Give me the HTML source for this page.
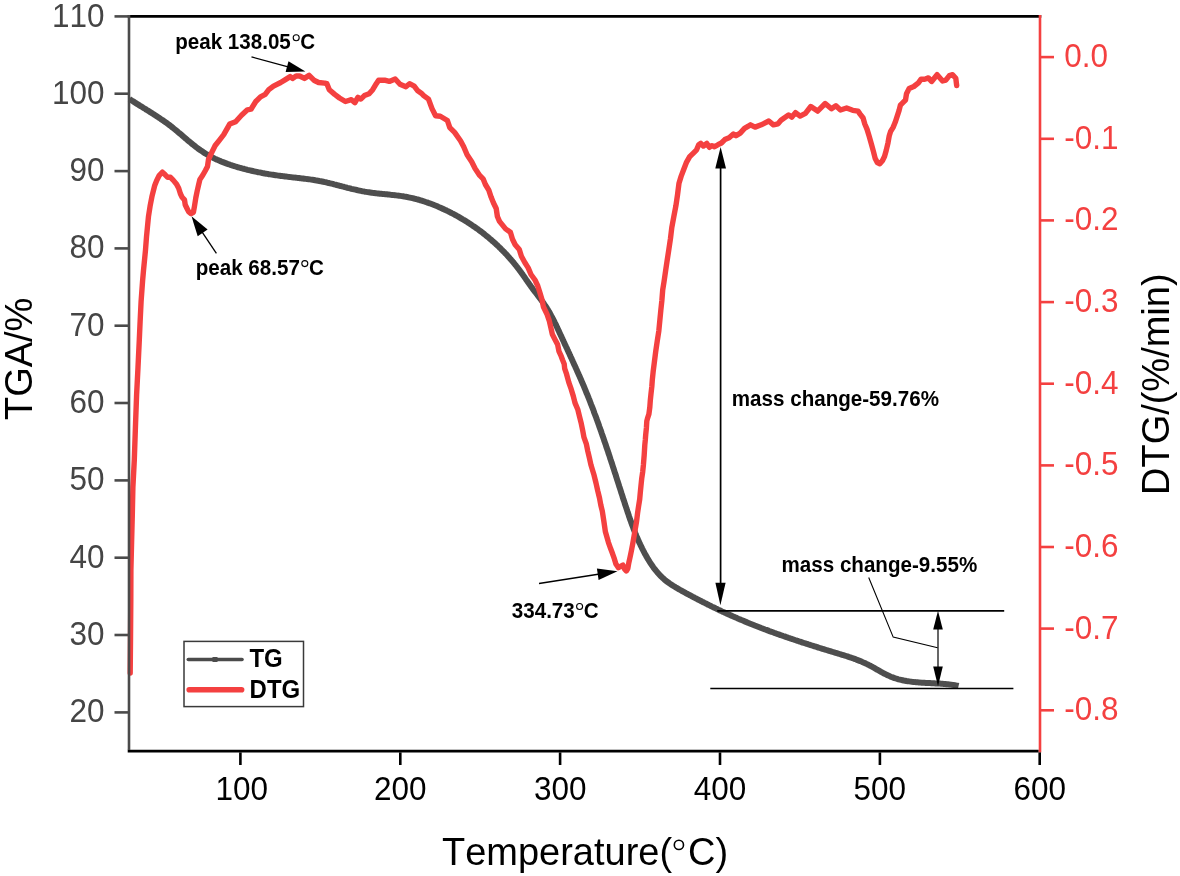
<!DOCTYPE html>
<html><head><meta charset="utf-8"><title>TGA/DTG</title>
<style>
html,body{margin:0;padding:0;background:#fff;}
body{width:1180px;height:876px;overflow:hidden;}
svg{display:block;will-change:transform;}
text{font-family:"Liberation Sans",sans-serif;font-kerning:none;}
.tl{font-size:31.5px;fill:#454545;}
.tb{font-size:31.5px;fill:#000;}
.tr{font-size:31.5px;fill:#f44040;}
.tt{font-size:38px;fill:#000;}
.lg{font-size:24px;font-weight:bold;fill:#000;}
.an{font-size:20.6px;font-weight:bold;fill:#000;}
</style></head>
<body>
<svg width="1180" height="876" viewBox="0 0 1180 876">
<rect width="1180" height="876" fill="#fff"/>
<polyline points="129.4,99.0 130.5,99.7 131.7,100.5 132.9,101.2 134.0,101.9 135.2,102.7 136.3,103.4 137.5,104.2 138.7,104.9 139.8,105.6 141.0,106.3 142.2,107.1 143.3,107.8 144.5,108.5 145.7,109.2 146.8,110.0 148.0,110.7 149.2,111.4 150.3,112.2 151.5,112.9 152.7,113.6 153.8,114.4 155.0,115.1 156.1,115.9 157.3,116.6 158.4,117.4 159.6,118.1 160.7,118.9 161.9,119.7 163.0,120.4 164.1,121.2 165.2,122.0 166.4,122.8 167.5,123.6 168.6,124.5 169.7,125.3 170.8,126.1 171.8,127.0 172.9,127.8 174.0,128.7 175.0,129.5 176.1,130.4 177.2,131.3 178.2,132.2 179.3,133.1 180.3,133.9 181.4,134.8 182.4,135.7 183.4,136.6 184.5,137.5 185.5,138.4 186.6,139.3 187.6,140.2 188.7,141.1 189.7,141.9 190.8,142.8 191.8,143.7 192.9,144.5 194.0,145.4 195.0,146.2 196.1,147.1 197.2,147.9 198.3,148.7 199.4,149.5 200.5,150.3 201.7,151.1 202.8,151.8 203.9,152.6 205.1,153.3 206.2,154.0 207.4,154.7 208.6,155.4 209.8,156.1 211.0,156.7 212.2,157.4 213.5,158.0 214.7,158.6 216.0,159.2 217.2,159.8 218.5,160.3 219.8,160.9 221.1,161.4 222.3,161.9 223.6,162.4 224.9,162.9 226.2,163.4 227.5,163.9 228.9,164.3 230.2,164.8 231.5,165.2 232.8,165.7 234.2,166.1 235.5,166.5 236.8,166.9 238.1,167.3 239.5,167.7 240.8,168.0 242.1,168.4 243.5,168.7 244.8,169.1 246.1,169.4 247.5,169.8 248.8,170.1 250.1,170.4 251.5,170.7 252.8,171.0 254.1,171.3 255.5,171.6 256.8,171.9 258.2,172.2 259.5,172.4 260.8,172.7 262.2,173.0 263.5,173.2 264.9,173.5 266.2,173.7 267.5,173.9 268.9,174.2 270.2,174.4 271.6,174.6 272.9,174.8 274.3,175.0 275.6,175.2 277.0,175.4 278.3,175.6 279.7,175.8 281.1,176.0 282.4,176.1 283.8,176.3 285.2,176.5 286.5,176.6 287.9,176.8 289.3,176.9 290.6,177.1 292.0,177.3 293.4,177.4 294.7,177.6 296.1,177.7 297.5,177.9 298.9,178.0 300.2,178.2 301.6,178.4 303.0,178.5 304.3,178.7 305.7,178.9 307.1,179.1 308.4,179.2 309.8,179.4 311.2,179.6 312.5,179.8 313.9,180.0 315.3,180.3 316.6,180.5 318.0,180.7 319.3,181.0 320.7,181.2 322.0,181.5 323.4,181.8 324.7,182.1 326.1,182.3 327.4,182.7 328.8,183.0 330.1,183.3 331.4,183.6 332.8,183.9 334.1,184.3 335.4,184.6 336.8,185.0 338.1,185.3 339.4,185.7 340.8,186.0 342.1,186.4 343.4,186.7 344.8,187.1 346.1,187.4 347.4,187.8 348.7,188.1 350.1,188.4 351.4,188.8 352.7,189.1 354.1,189.4 355.4,189.7 356.8,190.0 358.1,190.3 359.4,190.6 360.8,190.9 362.1,191.2 363.5,191.4 364.8,191.7 366.2,191.9 367.5,192.1 368.9,192.3 370.3,192.5 371.6,192.7 373.0,192.9 374.3,193.0 375.7,193.2 377.1,193.4 378.5,193.5 379.8,193.7 381.2,193.8 382.6,193.9 383.9,194.1 385.3,194.2 386.7,194.3 388.1,194.5 389.4,194.6 390.8,194.8 392.2,194.9 393.6,195.1 394.9,195.2 396.3,195.4 397.7,195.6 399.0,195.7 400.4,195.9 401.7,196.1 403.1,196.3 404.5,196.6 405.8,196.8 407.2,197.0 408.5,197.3 409.8,197.6 411.2,197.9 412.5,198.2 413.9,198.5 415.2,198.8 416.5,199.2 417.8,199.5 419.2,199.9 420.5,200.3 421.8,200.7 423.1,201.1 424.4,201.5 425.7,202.0 427.0,202.4 428.3,202.9 429.6,203.3 430.9,203.8 432.2,204.3 433.5,204.8 434.7,205.3 436.0,205.8 437.3,206.3 438.6,206.9 439.8,207.4 441.1,208.0 442.3,208.6 443.6,209.1 444.8,209.7 446.1,210.3 447.3,210.9 448.6,211.5 449.8,212.1 451.0,212.8 452.2,213.4 453.5,214.0 454.7,214.7 455.9,215.3 457.1,216.0 458.3,216.7 459.5,217.4 460.7,218.1 461.9,218.8 463.0,219.5 464.2,220.2 465.4,220.9 466.6,221.6 467.7,222.4 468.9,223.1 470.0,223.9 471.2,224.6 472.3,225.4 473.5,226.2 474.6,226.9 475.7,227.7 476.8,228.5 478.0,229.3 479.1,230.2 480.2,231.0 481.3,231.8 482.4,232.6 483.4,233.5 484.5,234.3 485.6,235.2 486.7,236.1 487.7,236.9 488.8,237.8 489.8,238.7 490.9,239.6 491.9,240.5 492.9,241.4 494.0,242.3 495.0,243.2 496.0,244.2 497.0,245.1 498.0,246.0 499.0,247.0 500.0,247.9 501.0,248.9 501.9,249.9 502.9,250.9 503.9,251.8 504.8,252.8 505.8,253.8 506.7,254.8 507.6,255.8 508.5,256.9 509.5,257.9 510.4,258.9 511.3,260.0 512.2,261.0 513.0,262.1 513.9,263.1 514.8,264.2 515.7,265.2 516.5,266.3 517.4,267.4 518.2,268.5 519.0,269.6 519.8,270.7 520.7,271.8 521.5,272.9 522.3,274.0 523.1,275.2 523.9,276.3 524.7,277.4 525.4,278.5 526.2,279.7 527.0,280.8 527.8,281.9 528.6,283.1 529.4,284.2 530.2,285.3 531.0,286.4 531.8,287.5 532.6,288.7 533.4,289.8 534.3,290.9 535.1,292.0 535.9,293.0 536.8,294.1 537.6,295.2 538.4,296.3 539.3,297.4 540.1,298.5 540.9,299.6 541.7,300.7 542.6,301.8 543.4,302.9 544.1,304.0 544.9,305.2 545.7,306.3 546.4,307.4 547.1,308.6 547.9,309.7 548.6,310.9 549.3,312.1 549.9,313.3 550.6,314.5 551.2,315.7 551.9,316.9 552.5,318.1 553.1,319.3 553.8,320.5 554.4,321.7 555.0,323.0 555.6,324.2 556.2,325.4 556.8,326.7 557.3,327.9 557.9,329.1 558.5,330.4 559.1,331.6 559.6,332.9 560.2,334.1 560.8,335.4 561.4,336.6 562.0,337.9 562.5,339.1 563.1,340.3 563.7,341.6 564.3,342.8 564.8,344.1 565.4,345.3 566.0,346.6 566.6,347.8 567.2,349.1 567.7,350.3 568.3,351.6 568.9,352.8 569.5,354.1 570.0,355.3 570.6,356.6 571.2,357.8 571.8,359.1 572.3,360.3 572.9,361.6 573.5,362.8 574.0,364.1 574.6,365.3 575.2,366.6 575.7,367.8 576.3,369.1 576.9,370.3 577.4,371.6 578.0,372.8 578.5,374.1 579.1,375.4 579.7,376.6 580.2,377.9 580.8,379.1 581.3,380.4 581.8,381.7 582.4,382.9 582.9,384.2 583.5,385.4 584.0,386.7 584.5,388.0 585.1,389.3 585.6,390.5 586.1,391.8 586.6,393.1 587.2,394.3 587.7,395.6 588.2,396.9 588.7,398.2 589.2,399.4 589.7,400.7 590.2,402.0 590.7,403.3 591.2,404.6 591.7,405.8 592.2,407.1 592.7,408.4 593.2,409.7 593.7,411.0 594.1,412.3 594.6,413.6 595.1,414.8 595.6,416.1 596.1,417.4 596.5,418.7 597.0,420.0 597.5,421.3 598.0,422.6 598.4,423.9 598.9,425.2 599.3,426.5 599.8,427.8 600.3,429.1 600.7,430.4 601.2,431.7 601.6,433.0 602.1,434.3 602.5,435.6 603.0,436.9 603.4,438.2 603.9,439.5 604.3,440.8 604.8,442.1 605.2,443.4 605.7,444.7 606.1,446.0 606.5,447.3 607.0,448.6 607.4,449.9 607.9,451.2 608.3,452.5 608.7,453.8 609.2,455.1 609.6,456.4 610.0,457.7 610.4,459.0 610.9,460.3 611.3,461.6 611.7,462.9 612.2,464.2 612.6,465.6 613.0,466.9 613.4,468.2 613.9,469.5 614.3,470.8 614.7,472.1 615.1,473.4 615.6,474.7 616.0,476.0 616.4,477.3 616.8,478.6 617.2,480.0 617.7,481.3 618.1,482.6 618.5,483.9 618.9,485.2 619.3,486.5 619.8,487.8 620.2,489.1 620.6,490.4 621.0,491.7 621.4,493.0 621.9,494.4 622.3,495.7 622.7,497.0 623.1,498.3 623.5,499.6 624.0,500.9 624.4,502.2 624.8,503.5 625.2,504.8 625.7,506.1 626.1,507.4 626.5,508.7 627.0,510.0 627.4,511.3 627.8,512.6 628.3,513.9 628.7,515.2 629.1,516.5 629.6,517.8 630.0,519.1 630.5,520.4 631.0,521.7 631.4,523.0 631.9,524.3 632.4,525.6 632.9,526.9 633.3,528.1 633.8,529.4 634.3,530.7 634.8,532.0 635.3,533.2 635.9,534.5 636.4,535.8 636.9,537.0 637.5,538.3 638.0,539.6 638.6,540.8 639.1,542.1 639.7,543.3 640.3,544.6 640.9,545.8 641.5,547.0 642.1,548.3 642.7,549.5 643.3,550.7 644.0,552.0 644.6,553.2 645.3,554.4 646.0,555.6 646.6,556.8 647.3,558.0 648.0,559.2 648.8,560.4 649.5,561.6 650.3,562.8 651.0,563.9 651.8,565.1 652.6,566.2 653.4,567.4 654.2,568.5 655.0,569.6 655.9,570.6 656.8,571.7 657.7,572.8 658.6,573.8 659.5,574.8 660.4,575.8 661.4,576.7 662.4,577.7 663.4,578.6 664.4,579.5 665.4,580.4 666.5,581.2 667.6,582.0 668.7,582.8 669.8,583.6 670.9,584.4 672.1,585.1 673.2,585.8 674.4,586.5 675.6,587.3 676.7,587.9 677.9,588.6 679.1,589.3 680.3,590.0 681.5,590.7 682.7,591.3 683.9,592.0 685.1,592.6 686.3,593.3 687.6,594.0 688.8,594.6 690.0,595.3 691.2,595.9 692.4,596.6 693.6,597.2 694.8,597.9 696.1,598.5 697.3,599.1 698.5,599.8 699.7,600.4 700.9,601.0 702.2,601.7 703.4,602.3 704.6,602.9 705.9,603.5 707.1,604.1 708.3,604.8 709.6,605.4 710.8,606.0 712.0,606.6 713.3,607.2 714.5,607.8 715.7,608.4 717.0,609.0 718.2,609.6 719.5,610.2 720.7,610.8 722.0,611.4 723.2,611.9 724.5,612.5 725.7,613.1 727.0,613.7 728.2,614.2 729.5,614.8 730.7,615.4 732.0,615.9 733.3,616.5 734.5,617.0 735.8,617.6 737.0,618.1 738.3,618.7 739.6,619.2 740.8,619.8 742.1,620.3 743.4,620.8 744.6,621.4 745.9,621.9 747.2,622.4 748.4,622.9 749.7,623.5 751.0,624.0 752.3,624.5 753.6,625.0 754.8,625.5 756.1,626.0 757.4,626.5 758.7,627.0 760.0,627.5 761.2,628.0 762.5,628.5 763.8,629.0 765.1,629.5 766.4,629.9 767.7,630.4 769.0,630.9 770.2,631.4 771.5,631.8 772.8,632.3 774.1,632.8 775.4,633.2 776.7,633.7 778.0,634.2 779.3,634.6 780.6,635.1 781.9,635.5 783.2,636.0 784.5,636.4 785.8,636.9 787.1,637.3 788.4,637.8 789.7,638.2 791.0,638.7 792.3,639.1 793.6,639.5 794.9,640.0 796.2,640.4 797.5,640.8 798.8,641.3 800.1,641.7 801.4,642.1 802.7,642.6 804.0,643.0 805.4,643.4 806.7,643.8 808.0,644.2 809.3,644.7 810.6,645.1 811.9,645.5 813.2,645.9 814.5,646.3 815.8,646.7 817.2,647.1 818.5,647.6 819.8,648.0 821.1,648.4 822.4,648.8 823.7,649.2 825.0,649.6 826.3,650.0 827.7,650.4 829.0,650.8 830.3,651.2 831.6,651.6 832.9,652.0 834.2,652.4 835.6,652.8 836.9,653.2 838.2,653.6 839.5,654.0 840.8,654.4 842.1,654.8 843.5,655.2 844.8,655.6 846.1,656.0 847.4,656.4 848.7,656.9 850.0,657.3 851.3,657.7 852.6,658.2 853.9,658.6 855.2,659.1 856.4,659.6 857.7,660.1 859.0,660.6 860.3,661.1 861.5,661.6 862.8,662.2 864.0,662.7 865.3,663.3 866.5,663.9 867.8,664.5 869.0,665.1 870.2,665.7 871.4,666.4 872.6,667.0 873.8,667.7 875.0,668.4 876.2,669.1 877.4,669.8 878.6,670.4 879.8,671.1 881.0,671.8 882.2,672.5 883.4,673.1 884.6,673.8 885.9,674.4 887.1,675.0 888.3,675.6 889.5,676.1 890.8,676.7 892.1,677.2 893.3,677.6 894.6,678.1 895.9,678.5 897.2,678.9 898.5,679.3 899.8,679.6 901.1,679.9 902.5,680.2 903.8,680.5 905.1,680.7 906.5,681.0 907.8,681.2 909.2,681.4 910.6,681.6 911.9,681.8 913.3,681.9 914.7,682.1 916.1,682.2 917.5,682.3 918.9,682.4 920.3,682.6 921.6,682.7 923.0,682.7 924.4,682.8 925.8,682.9 927.2,683.0 928.6,683.0 930.0,683.1 931.4,683.2 932.8,683.3 934.2,683.3 935.6,683.4 937.0,683.5 938.4,683.6 939.8,683.6 941.2,683.7 942.5,683.8 943.9,683.9 945.3,684.0 946.6,684.2 948.0,684.3 949.4,684.4 950.7,684.6 952.0,684.8 953.4,684.9 954.7,685.1 956.0,685.4 957.3,685.6 958.6,685.9" fill="none" stroke="#4e4e4e" stroke-width="6.0" stroke-linejoin="round" stroke-linecap="butt"/>
<polyline points="130.2,673.0 130.5,640.0 130.8,600.0 130.9,570.0 131.6,542.0 132.3,515.0 132.9,487.0 134.3,460.0 135.6,422.2 136.6,394.8 138.0,367.4 139.3,340.0 140.1,321.9 141.1,301.4 142.6,280.8 143.5,270.5 144.5,260.3 145.5,250.0 146.5,236.9 147.5,226.6 148.5,216.3 150.1,206.1 152.1,195.8 154.7,185.5 156.7,180.4 159.3,175.3 162.4,172.2 165.0,174.6 167.7,177.3 170.5,177.3 173.2,180.1 176.6,184.2 178.7,188.3 180.4,193.8 182.1,197.2 184.5,199.9 185.2,204.7 186.9,208.2 188.6,211.6 191.0,213.6 193.4,212.3 194.5,206.1 195.8,197.9 197.2,191.0 198.6,184.9 199.9,179.4 202.7,175.3 205.4,170.5 207.5,166.4 208.5,159.5 211.8,152.4 215.2,145.5 219.7,139.8 223.7,134.7 229.7,124.1 235.6,121.7 241.5,115.2 247.4,109.8 251.0,109.2 255.8,101.5 260.5,96.8 265.2,94.4 268.8,89.7 273.5,86.1 280.7,82.5 285.4,79.6 290.2,76.6 292.5,78.4 296.1,76.0 299.6,76.0 304.4,78.4 309.1,75.4 313.9,80.2 318.6,82.5 324.6,83.1 326.9,83.7 329.3,89.7 334.7,94.4 339.5,98.0 345.4,101.5 351.4,99.7 354.9,102.7 357.9,97.4 360.8,99.1 364.4,95.6 369.1,93.8 372.7,89.7 376.3,83.7 378.6,80.2 384.6,80.2 389.3,81.4 395.2,79.0 400.0,84.3 405.9,86.7 409.5,83.7 414.2,86.1 417.8,90.8 421.3,93.2 423.7,95.6 428.5,99.1 432.0,108.6 435.6,115.8 440.3,116.3 447.4,120.5 449.8,127.6 454.6,132.4 460.5,140.7 463.7,146.8 467.1,154.8 471.7,161.7 475.1,168.5 479.7,175.4 483.1,178.8 485.4,184.5 488.8,190.2 491.1,197.1 493.4,202.8 496.2,208.5 497.4,216.5 499.5,221.4 505.6,228.9 510.4,232.3 512.5,239.2 515.2,244.7 519.3,249.5 521.4,256.3 524.8,262.5 528.2,267.9 531.0,274.5 535.0,280.0 537.8,286.0 540.1,293.3 542.1,300.0 543.4,306.8 546.8,313.7 549.2,320.5 550.8,327.4 552.3,334.2 555.1,339.7 557.6,344.5 559.0,351.4 561.2,356.2 562.6,360.0 564.2,364.0 564.7,368.7 566.6,374.2 568.8,382.4 571.2,389.2 573.3,396.1 575.0,402.9 577.9,409.8 579.6,416.8 581.3,423.7 582.7,430.5 584.0,437.4 586.4,444.2 587.8,451.1 589.4,457.9 590.9,464.8 592.5,470.0 594.1,475.3 596.0,483.0 597.7,490.7 599.5,498.0 600.8,505.0 602.3,511.2 603.9,521.5 605.4,531.8 608.4,542.3 610.7,548.8 612.6,553.8 614.4,558.9 615.9,564.0 618.4,567.6 620.7,566.4 622.9,565.1 624.5,568.9 626.3,571.0 627.8,568.5 628.8,562.9 630.1,557.0 631.4,550.7 632.6,544.4 634.0,536.5 635.3,528.7 636.5,521.8 637.6,512.9 638.6,506.1 639.7,499.2 640.3,492.4 641.0,485.5 641.7,478.7 642.7,471.8 643.4,465.0 644.2,455.0 644.8,445.0 645.3,440.0 645.7,434.8 646.4,427.9 646.8,421.1 647.5,418.4 648.9,414.2 649.8,407.4 650.3,400.5 651.0,393.7 651.8,386.8 652.3,380.0 653.1,372.2 654.4,361.9 655.7,351.6 657.2,341.4 658.8,331.1 659.8,320.8 660.8,310.5 661.9,300.3 662.7,290.0 664.0,281.8 665.6,270.9 667.2,260.1 668.9,249.2 670.5,238.4 671.8,227.5 673.8,216.7 675.9,205.8 677.5,195.0 679.0,183.2 681.1,176.4 683.7,169.5 686.3,162.7 689.7,156.7 693.1,153.3 696.6,149.8 698.7,144.7 700.8,143.4 703.4,146.0 706.8,143.4 709.4,147.3 712.0,145.6 714.5,146.8 718.0,144.7 721.4,143.0 724.8,139.6 729.1,137.8 733.4,134.0 736.0,135.7 740.2,133.1 744.5,128.4 748.8,125.9 750.5,124.8 755.1,127.1 761.2,124.8 768.8,121.0 773.4,124.8 778.0,123.8 781.0,120.3 788.6,114.9 791.7,117.2 795.5,112.6 800.1,116.1 805.4,113.4 810.8,106.5 817.6,111.1 825.2,103.5 831.4,108.8 835.9,105.8 840.5,110.0 846.6,108.0 852.7,110.3 858.0,111.1 860.1,114.1 863.1,118.0 864.8,124.0 867.0,129.1 869.1,136.0 871.3,143.7 873.4,151.4 875.1,158.2 877.3,162.5 879.8,163.8 882.4,160.8 884.5,156.5 886.2,150.5 888.0,142.8 889.2,136.0 890.5,131.7 893.1,127.4 895.2,122.3 896.9,117.1 899.1,110.3 900.4,105.1 902.9,102.6 905.5,100.0 906.5,93.8 909.2,88.4 913.8,86.5 918.4,82.9 921.1,79.2 924.7,79.2 928.4,77.9 931.6,81.5 937.1,74.7 942.6,81.0 945.8,80.1 949.4,75.6 952.6,74.7 955.8,78.3 956.7,85.6" fill="none" stroke="#f44040" stroke-width="5.4" stroke-linejoin="round" stroke-linecap="round"/>
<line x1="127.7" y1="16.4" x2="1041.3" y2="16.4" stroke="#000" stroke-width="2.6"/>
<line x1="127.7" y1="751.2" x2="1038.7" y2="751.2" stroke="#000" stroke-width="2.8"/>
<line x1="129.0" y1="15.099999999999998" x2="129.0" y2="749.9000000000001" stroke="#4b4b4b" stroke-width="2.6"/>
<line x1="1040.0" y1="15.099999999999998" x2="1040.0" y2="752.5" stroke="#f44040" stroke-width="2.6"/>
<line x1="114.5" y1="712.4" x2="129.0" y2="712.4" stroke="#4b4b4b" stroke-width="2.6"/>
<text transform="translate(104.50,722.47) scale(1,1.041)" text-anchor="end" class="tl">20</text>
<line x1="114.5" y1="635.0" x2="129.0" y2="635.0" stroke="#4b4b4b" stroke-width="2.6"/>
<text transform="translate(104.50,645.14) scale(1,1.041)" text-anchor="end" class="tl">30</text>
<line x1="114.5" y1="557.7" x2="129.0" y2="557.7" stroke="#4b4b4b" stroke-width="2.6"/>
<text transform="translate(104.50,567.81) scale(1,1.041)" text-anchor="end" class="tl">40</text>
<line x1="114.5" y1="480.4" x2="129.0" y2="480.4" stroke="#4b4b4b" stroke-width="2.6"/>
<text transform="translate(104.50,490.48) scale(1,1.041)" text-anchor="end" class="tl">50</text>
<line x1="114.5" y1="403.0" x2="129.0" y2="403.0" stroke="#4b4b4b" stroke-width="2.6"/>
<text transform="translate(104.50,413.15) scale(1,1.041)" text-anchor="end" class="tl">60</text>
<line x1="114.5" y1="325.7" x2="129.0" y2="325.7" stroke="#4b4b4b" stroke-width="2.6"/>
<text transform="translate(104.50,335.82) scale(1,1.041)" text-anchor="end" class="tl">70</text>
<line x1="114.5" y1="248.4" x2="129.0" y2="248.4" stroke="#4b4b4b" stroke-width="2.6"/>
<text transform="translate(104.50,258.49) scale(1,1.041)" text-anchor="end" class="tl">80</text>
<line x1="114.5" y1="171.1" x2="129.0" y2="171.1" stroke="#4b4b4b" stroke-width="2.6"/>
<text transform="translate(104.50,181.16) scale(1,1.041)" text-anchor="end" class="tl">90</text>
<line x1="114.5" y1="93.7" x2="129.0" y2="93.7" stroke="#4b4b4b" stroke-width="2.6"/>
<text transform="translate(104.50,103.83) scale(1,1.041)" text-anchor="end" class="tl">100</text>
<line x1="114.5" y1="16.4" x2="129.0" y2="16.4" stroke="#4b4b4b" stroke-width="2.6"/>
<text transform="translate(104.50,26.50) scale(1,1.041)" text-anchor="end" class="tl">110</text>
<line x1="240.4" y1="752.4000000000001" x2="240.4" y2="765" stroke="#000" stroke-width="2.6"/>
<text transform="translate(241.65,800.10) scale(1,1.041)" text-anchor="middle" class="tb">100</text>
<line x1="400.3" y1="752.4000000000001" x2="400.3" y2="765" stroke="#000" stroke-width="2.6"/>
<text transform="translate(400.30,800.10) scale(1,1.041)" text-anchor="middle" class="tb">200</text>
<line x1="560.1" y1="752.4000000000001" x2="560.1" y2="765" stroke="#000" stroke-width="2.6"/>
<text transform="translate(560.15,800.10) scale(1,1.041)" text-anchor="middle" class="tb">300</text>
<line x1="720.0" y1="752.4000000000001" x2="720.0" y2="765" stroke="#000" stroke-width="2.6"/>
<text transform="translate(720.00,800.10) scale(1,1.041)" text-anchor="middle" class="tb">400</text>
<line x1="879.9" y1="752.4000000000001" x2="879.9" y2="765" stroke="#000" stroke-width="2.6"/>
<text transform="translate(879.85,800.10) scale(1,1.041)" text-anchor="middle" class="tb">500</text>
<line x1="1039.7" y1="752.4000000000001" x2="1039.7" y2="765" stroke="#000" stroke-width="2.6"/>
<text transform="translate(1039.70,800.10) scale(1,1.041)" text-anchor="middle" class="tb">600</text>
<line x1="1040.0" y1="57.1" x2="1054" y2="57.1" stroke="#f44040" stroke-width="2.6"/>
<text transform="translate(1064.20,67.00) scale(1,1.041)" class="tr">0.0</text>
<line x1="1040.0" y1="138.8" x2="1054" y2="138.8" stroke="#f44040" stroke-width="2.6"/>
<text transform="translate(1064.20,148.65) scale(1,1.041)" class="tr">-0.1</text>
<line x1="1040.0" y1="220.4" x2="1054" y2="220.4" stroke="#f44040" stroke-width="2.6"/>
<text transform="translate(1064.20,230.30) scale(1,1.041)" class="tr">-0.2</text>
<line x1="1040.0" y1="302.1" x2="1054" y2="302.1" stroke="#f44040" stroke-width="2.6"/>
<text transform="translate(1064.20,311.95) scale(1,1.041)" class="tr">-0.3</text>
<line x1="1040.0" y1="383.7" x2="1054" y2="383.7" stroke="#f44040" stroke-width="2.6"/>
<text transform="translate(1064.20,393.60) scale(1,1.041)" class="tr">-0.4</text>
<line x1="1040.0" y1="465.4" x2="1054" y2="465.4" stroke="#f44040" stroke-width="2.6"/>
<text transform="translate(1064.20,475.25) scale(1,1.041)" class="tr">-0.5</text>
<line x1="1040.0" y1="547.0" x2="1054" y2="547.0" stroke="#f44040" stroke-width="2.6"/>
<text transform="translate(1064.20,556.90) scale(1,1.041)" class="tr">-0.6</text>
<line x1="1040.0" y1="628.6" x2="1054" y2="628.6" stroke="#f44040" stroke-width="2.6"/>
<text transform="translate(1064.20,638.55) scale(1,1.041)" class="tr">-0.7</text>
<line x1="1040.0" y1="710.3" x2="1054" y2="710.3" stroke="#f44040" stroke-width="2.6"/>
<text transform="translate(1064.20,720.20) scale(1,1.041)" class="tr">-0.8</text>
<text transform="translate(442.00,865.10) scale(1,1.041)" class="tt">Temperature(</text>
<circle cx="678.9" cy="844.9" r="4.6" fill="none" stroke="#000" stroke-width="1.6"/>
<text transform="translate(688.00,865.10) scale(1,1.041)" class="tt">C)</text>
<text transform="translate(31.90,420.00) rotate(-90) scale(1,1.041)" class="tt">TGA/%</text>
<text transform="translate(1169.00,495.00) rotate(-90) scale(1,1.041)" class="tt">DTG/(%/min)</text>
<rect x="184" y="641.4" width="119.5" height="65.2" fill="#fff" stroke="#3a3a3a" stroke-width="1.5"/>
<line x1="188.3" y1="659.5" x2="242" y2="659.5" stroke="#4b4b4b" stroke-width="3.6" stroke-linecap="round"/>
<rect x="212.2" y="657" width="5.6" height="5" rx="1.2" fill="#4b4b4b"/>
<line x1="189.2" y1="689.8" x2="241.6" y2="689.8" stroke="#f44040" stroke-width="5.6" stroke-linecap="round"/>
<text transform="translate(249.40,667.20) scale(1,1.041)" class="lg">TG</text>
<text transform="translate(249.60,697.60) scale(1,1.041)" class="lg">DTG</text>
<text transform="translate(175.20,48.80) scale(1,1.041)" class="an">peak 138.05</text><circle cx="296.2" cy="37.8" r="3.0" fill="none" stroke="#000" stroke-width="1.1"/><text transform="translate(300.30,48.80) scale(1,1.041)" class="an">C</text>
<text transform="translate(195.70,274.70) scale(1,1.041)" class="an">peak 68.57</text><circle cx="304.8" cy="263.6" r="3.0" fill="none" stroke="#000" stroke-width="1.1"/><text transform="translate(309.00,274.70) scale(1,1.041)" class="an">C</text>
<text transform="translate(511.80,617.50) scale(1,1.041)" class="an">334.73</text><circle cx="579.6" cy="606.5" r="3.0" fill="none" stroke="#000" stroke-width="1.1"/><text transform="translate(583.70,617.50) scale(1,1.041)" class="an">C</text>
<text transform="translate(731.80,406.40) scale(1,1.041)" class="an">mass change-59.76%</text>
<text transform="translate(781.50,572.30) scale(1,1.041)" class="an">mass change-9.55%</text>
<line x1="251.5" y1="56.9" x2="289.0" y2="67.1" stroke="#000" stroke-width="1.3"/><polygon points="305.4,71.6 285.6,71.9 288.5,61.3" fill="#000"/>
<line x1="216.4" y1="253.3" x2="201.5" y2="231.1" stroke="#000" stroke-width="1.3"/><polygon points="191.5,216.2 207.6,229.5 197.7,236.2" fill="#000"/>
<line x1="539.0" y1="583.5" x2="599.7" y2="574.0" stroke="#000" stroke-width="1.3"/><polygon points="617.5,571.2 598.6,580.0 596.9,568.6" fill="#000"/>
<line x1="720.6" y1="166" x2="720.6" y2="586" stroke="#000" stroke-width="1.7"/>
<polygon points="720.6,147.1 715.3,168.4 726.0,168.4" fill="#000"/>
<polygon points="720.4,605.2 715.4,582.8 725.6,582.8" fill="#000"/>
<line x1="717.2" y1="610.9" x2="1004.2" y2="610.9" stroke="#000" stroke-width="1.6"/>
<line x1="710.3" y1="688.5" x2="1013.4" y2="688.5" stroke="#000" stroke-width="1.6"/>
<line x1="938" y1="627" x2="938" y2="668" stroke="#000" stroke-width="1.2"/>
<polygon points="938,610.8 933.2,629.5 942.8,629.5" fill="#000"/>
<polygon points="938,686.3 933.2,666.5 942.8,666.5" fill="#000"/>
<polyline points="868.7,577.5 893.2,637.1 937.6,647.8" fill="none" stroke="#000" stroke-width="1.1"/>
</svg>
</body></html>
